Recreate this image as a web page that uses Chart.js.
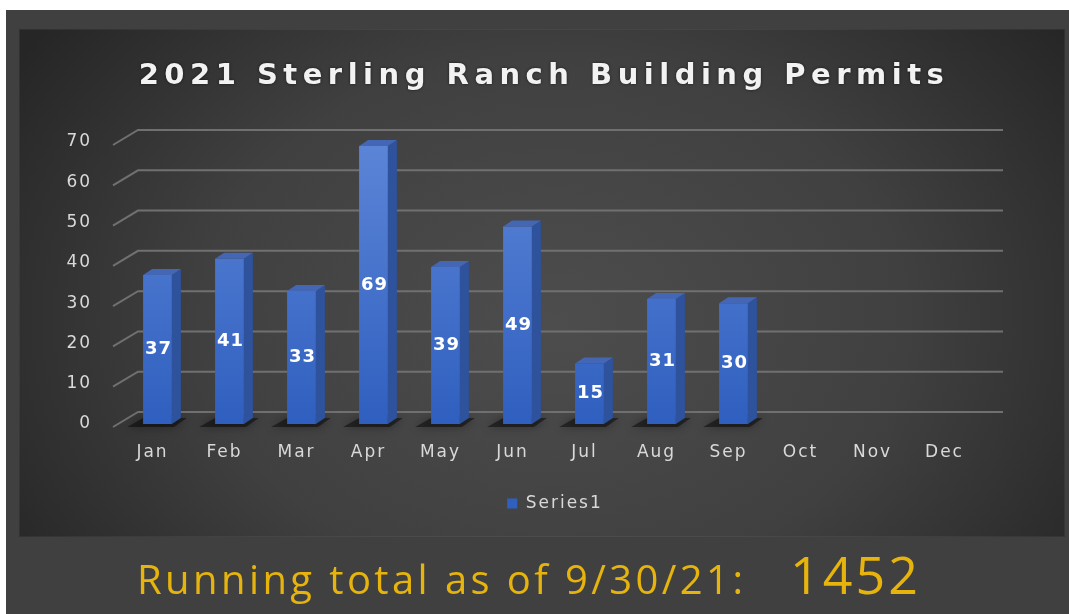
<!DOCTYPE html>
<html>
<head>
<meta charset="utf-8">
<script src="https://cdn.jsdelivr.net/npm/chart.js@4.4.1/dist/chart.umd.min.js"></script>
<style>
  html, body { margin: 0; padding: 0; background: #fff; }
  #wrap { position: relative; width: 1069px; height: 614px; }
</style>
</head>
<body>
<div id="wrap"><canvas id="permits" width="1069" height="614"></canvas></div>
<script>
// Daten
const months = ['Jan', 'Feb', 'Mar', 'Apr', 'May', 'Jun', 'Jul', 'Aug', 'Sep', 'Oct', 'Nov', 'Dec'];
const permits = [37, 41, 33, 69, 39, 49, 15, 31, 30, null, null, null];
const yTicks = [0, 10, 20, 30, 40, 50, 60, 70];
const seriesName = 'Series1';
const chartTitle = '2021 Sterling Ranch Building Permits';
const totalLabel = 'Running total as of 9/30/21:';
const totalValue = '1452';

const DEPTH_X = 9;
const DEPTH_Y = -6;

// Hintergrund: grauer Rahmen + dunkle Fläche mit Verlauf
const backgroundPlugin = {
    id: 'background',
    beforeDraw(chart) {
        const ctx = chart.ctx;
        const w = chart.width, h = chart.height;
        ctx.save();
        ctx.fillStyle = '#ffffff';
        ctx.fillRect(0, 0, w, h);
        ctx.fillStyle = '#404040';
        ctx.fillRect(6, 10, w - 6, h - 10);

        const bx = 19, by = 29, bw = 1046, bh = 508;
        ctx.save();
        ctx.beginPath();
        ctx.rect(bx, by, bw, bh);
        ctx.clip();
        ctx.translate(555, 320);
        ctx.scale(1, 0.75);
        const g = ctx.createRadialGradient(0, 0, 0, 0, 0, 640);
        g.addColorStop(0, '#4d4d4d');
        g.addColorStop(0.55, '#404040');
        g.addColorStop(1, '#262626');
        ctx.fillStyle = g;
        ctx.fillRect(-700, -700, 1400, 1400);
        ctx.restore();
        ctx.strokeStyle = 'rgba(255,255,255,0.05)';
        ctx.lineWidth = 1;
        ctx.strokeRect(bx + 0.5, by + 0.5, bw - 1, bh - 1);
        ctx.restore();

        // Zeichenabstand für Achsen und Legende
        ctx.letterSpacing = '2px';
    }
};

// 3D-Gitterlinien (Rückwand + schräge Seitenwand)
const gridPlugin = {
    id: 'grid3d',
    beforeDatasetsDraw(chart) {
        const ctx = chart.ctx;
        const y = chart.scales.y;
        const area = chart.chartArea;
        ctx.save();
        ctx.strokeStyle = '#707070';
        ctx.lineWidth = 2;
        yTicks.forEach(v => {
            const py = y.getPixelForValue(v);
            ctx.beginPath();
            ctx.moveTo(area.left - 8.5, py + 3);
            ctx.lineTo(area.left + 16.5, py - 12);
            ctx.lineTo(area.right + 17.5, py - 12);
            ctx.stroke();
        });

        // weicher Schatten am Boden
        const meta = chart.getDatasetMeta(0);
        ctx.fillStyle = 'rgba(0,0,0,0.45)';
        ctx.shadowColor = 'rgba(0,0,0,0.8)';
        ctx.shadowBlur = 10;
        meta.data.forEach((bar, i) => {
            if (permits[i] == null) return;
            const half = bar.width / 2;
            ctx.beginPath();
            ctx.moveTo(bar.x - half - 16, bar.base + 3);
            ctx.lineTo(bar.x - half, bar.base - 6);
            ctx.lineTo(bar.x + half + DEPTH_X + 6, bar.base - 6);
            ctx.lineTo(bar.x + half + 2, bar.base + 3);
            ctx.closePath();
            ctx.fill();
        });
        ctx.restore();
    }
};

// Seiten- und Deckfläche der Säulen + Werte
const barFacesPlugin = {
    id: 'barFaces',
    afterDatasetsDraw(chart) {
        const ctx = chart.ctx;
        const meta = chart.getDatasetMeta(0);
        ctx.save();
        meta.data.forEach((bar, i) => {
            if (permits[i] == null) return;
            const l = bar.x - bar.width / 2;
            const r = bar.x + bar.width / 2;
            const t = bar.y, b = bar.base;

            // Seite
            ctx.fillStyle = '#2e529c';
            ctx.beginPath();
            ctx.moveTo(r, t);
            ctx.lineTo(r + DEPTH_X, t + DEPTH_Y);
            ctx.lineTo(r + DEPTH_X, b + DEPTH_Y);
            ctx.lineTo(r, b);
            ctx.closePath();
            ctx.fill();

            // Deckel
            ctx.fillStyle = '#4467b5';
            ctx.beginPath();
            ctx.moveTo(l, t);
            ctx.lineTo(l + DEPTH_X, t + DEPTH_Y);
            ctx.lineTo(r + DEPTH_X, t + DEPTH_Y);
            ctx.lineTo(r, t);
            ctx.closePath();
            ctx.fill();
        });

        ctx.letterSpacing = '1px';
        ctx.fillStyle = '#ffffff';
        ctx.font = 'bold 18px "DejaVu Sans"';
        ctx.textAlign = 'center';
        ctx.textBaseline = 'middle';
        meta.data.forEach((bar, i) => {
            if (permits[i] == null) return;
            ctx.fillText(String(permits[i]), bar.x + 1, (bar.y + bar.base) / 2);
        });
        ctx.restore();
    }
};

// Titel und Summe
const textPlugin = {
    id: 'texts',
    afterDraw(chart) {
        const ctx = chart.ctx;
        ctx.save();
        ctx.textBaseline = 'alphabetic';
        ctx.textAlign = 'center';
        ctx.letterSpacing = '5.5px';
        ctx.font = 'bold 29px "DejaVu Sans"';
        ctx.shadowColor = 'rgba(0,0,0,0.6)';
        ctx.shadowBlur = 3;
        ctx.fillStyle = '#f2f2f2';
        ctx.fillText(chartTitle, 544, 84);

        ctx.shadowBlur = 0;
        ctx.textAlign = 'left';
        ctx.fillStyle = '#e6b40c';
        ctx.letterSpacing = '3.4px';
        ctx.font = '40px "Open Sans"';
        ctx.fillText(totalLabel, 137, 594);
        ctx.letterSpacing = '3px';
        ctx.font = '52px "Open Sans"';
        ctx.fillText(totalValue, 790, 594);
        ctx.restore();
    }
};

const ctx = document.getElementById('permits').getContext('2d');

new Chart(ctx, {
    type: 'bar',
    data: {
        labels: months,
        datasets: [{
            label: seriesName,
            data: permits,
            backgroundColor: (c) => {
                const area = c.chart.chartArea;
                if (!area) return '#4472c4';
                const g = c.chart.ctx.createLinearGradient(0, area.top, 0, area.bottom);
                g.addColorStop(0, '#5c85d7');
                g.addColorStop(1, '#2f5fbf');
                return g;
            },
            borderWidth: 0,
            categoryPercentage: 1,
            barPercentage: 0.4
        }]
    },
    options: {
        responsive: false,
        animation: false,
        layout: {
            padding: { left: 110.5, right: 83.5, top: 142, bottom: 92 }
        },
        scales: {
            x: {
                grid: { display: false, drawTicks: false },
                border: { display: false },
                ticks: {
                    color: '#d9d9d9',
                    font: { family: 'DejaVu Sans', size: 17 },
                    padding: 18,
                    labelOffset: -5
                },
                afterFit: (scale) => { scale.height = 61; }
            },
            y: {
                min: 0,
                max: 70,
                grid: { display: false, drawTicks: false },
                border: { display: false },
                ticks: {
                    stepSize: 10,
                    color: '#d9d9d9',
                    font: { family: 'DejaVu Sans', size: 17 },
                    mirror: true,
                    crossAlign: 'far',
                    padding: -51
                },
                afterFit: (scale) => { scale.width = 11; }
            }
        },
        plugins: {
            legend: {
                position: 'bottom',
                labels: {
                    color: '#d9d9d9',
                    font: { family: 'DejaVu Sans', size: 17 },
                    boxWidth: 10,
                    boxHeight: 10,
                    padding: 10
                }
            },
            tooltip: { enabled: false }
        }
    },
    plugins: [backgroundPlugin, gridPlugin, barFacesPlugin, textPlugin]
});
</script>
</body>
</html>
